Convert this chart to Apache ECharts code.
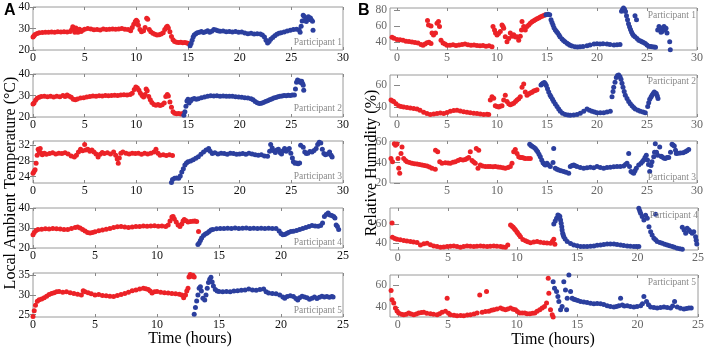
<!DOCTYPE html>
<html><head><meta charset="utf-8">
<script src="https://cdn.jsdelivr.net/npm/echarts@6/dist/echarts.min.js"></script>
<style>html,body{margin:0;padding:0;background:#fff}#c{width:707px;height:351px}</style>
</head><body><div id="c"></div>
<script>
// ---------- Tick labels ----------
const xTicks30 = [0,5,10,15,20,25,30];
const xTicks25 = [0,5,10,15,20,25];
const xTicksB3 = [5,10,15,20,25,30];
const xTickPosB45 = [0.15,4.3,10,15,20,25];
const xTickTextB45 = ['0','5','10','15','20','25'];
const yTicksA1 = [20,30,40], yTicksA2 = [20,30,40], yTicksA3 = [24,28,32], yTicksA4 = [20,30,40], yTicksA5 = [25,30,35];
const yTicksB1 = [40,60,80], yTicksB2 = [40,60], yTicksB3 = [20,40,60], yTicksB4 = [40,60], yTicksB5 = [40,60];
const participants = ['Participant 1','Participant 2','Participant 3','Participant 4','Participant 5'];

// ---------- A: Local ambient temperature (°C) ----------
const a1Red = [[0,26],[0.1,26.6],[0.2,27.2],[0.4,27.7],[0.6,28],[0.9,28.1],[1.2,28.3],[1.5,28.2],[1.8,28.4],[2.1,28.3],[2.4,28.5],[2.7,28.4],[3,28.5],[3.3,28.4],[3.6,28.6],[3.75,29.5],[3.85,30.8],[3.95,29.8],[4.05,28.3],[4.15,30.2],[4.25,29],[4.35,28.2],[4.5,29.6],[4.65,28.6],[4.8,29.2],[5,29.6],[5.3,30],[5.6,29.8],[5.9,29.4],[6.2,29.5],[6.5,29.3],[6.8,29.8],[7.1,29.5],[7.4,29.7],[7.7,29.8],[8,29.6],[8.3,29.8],[8.6,30],[8.9,29.7],[9.2,29.5],[9.45,29],[9.6,30.5],[9.75,32],[9.9,33.3],[10,33.8],[10.1,33.2],[10.2,31.5],[10.35,29.5],[10.5,28.5],[10.7,29],[10.85,30.5],[11,34.8],[11.1,34.3],[11.25,29.5],[11.4,28.5],[11.6,27.8],[11.8,27.3],[12,27],[12.2,27.1],[12.4,27.4],[12.6,28],[12.75,29.5],[12.9,30.6],[13,31],[13.1,30.2],[13.25,28.5],[13.4,26.3],[13.55,24.8],[13.7,24],[13.9,23.6],[14.1,23.5],[14.3,23.6],[14.5,23.4],[14.7,23.5],[14.9,23.3],[15.05,23]];
const a1Blue = [[15.2,22],[15.3,23],[15.4,24.5],[15.5,26],[15.6,27],[15.75,27.6],[15.9,28],[16.1,28.3],[16.3,28.6],[16.5,28.1],[16.7,28.5],[16.9,28.9],[17.1,28.3],[17.3,28.7],[17.5,29.5],[17.7,29.3],[17.9,29],[18.1,28.7],[18.4,28.8],[18.7,28.5],[19,28.6],[19.3,28.4],[19.6,28.6],[19.9,28.3],[20.2,28.4],[20.5,27.9],[20.8,27.6],[21.1,27.8],[21.4,27.5],[21.7,27.6],[22,27.4],[22.2,27],[22.4,26],[22.55,24.5],[22.7,23.2],[22.85,24],[23,25],[23.2,25.8],[23.4,26.6],[23.6,27.3],[23.8,27.8],[24,28],[24.3,28.4],[24.6,28.8],[24.9,29.2],[25.2,29.5],[25.5,29.6],[25.75,29.4],[25.85,28.3],[25.95,31],[26.05,33.5],[26.15,36.2],[26.25,35.6],[26.35,34],[26.45,33.2],[26.55,34.5],[26.65,35.5],[26.75,34.2],[26.85,34.9],[26.95,34],[27.05,33.4],[27.1,29.2]];
const a2Red = [[0,26],[0.1,26.5],[0.25,27.8],[0.4,28.7],[0.6,29.2],[0.8,29.5],[1.1,29.6],[1.4,29.4],[1.7,29.6],[2,29.3],[2.3,29.7],[2.6,29.4],[2.9,30],[3.1,29.5],[3.3,30.2],[3.5,29.6],[3.7,29.2],[3.9,28.3],[4.1,28],[4.3,28.4],[4.6,28.8],[4.9,29],[5.2,29.3],[5.5,29.5],[5.8,29.8],[6.1,29.7],[6.4,29.9],[6.7,29.8],[7,30],[7.3,29.9],[7.6,30],[7.9,30.1],[8.2,30],[8.5,30.2],[8.8,30.3],[9.1,30.2],[9.4,30.5],[9.6,31],[9.8,32.8],[9.95,34],[10.1,33.5],[10.25,32.5],[10.4,31],[10.55,30],[10.7,29.3],[10.85,30.5],[10.95,33],[11.05,32.2],[11.2,29.5],[11.35,28],[11.5,26.8],[11.7,25.8],[11.9,25.5],[12.1,25.8],[12.3,25.4],[12.5,25.7],[12.7,26.5],[12.85,29.5],[13,30.5],[13.1,29.8],[13.25,27],[13.4,24.5],[13.55,22.5],[13.7,21.8],[13.9,21.5],[14.1,21.6],[14.3,21.4],[14.5,21.6]];
const a2Blue = [[14.6,20.8],[14.7,22.5],[14.8,25],[14.9,27.5],[15,28.2],[15.1,26.5],[15.25,27.5],[15.4,28.3],[15.6,28.6],[15.8,28.2],[16,28.5],[16.3,29],[16.6,29.3],[16.9,29.7],[17.2,29.9],[17.5,29.8],[17.8,29.9],[18.1,29.7],[18.4,29.8],[18.7,29.7],[19,29.6],[19.3,29.7],[19.6,29.4],[19.9,29.3],[20.2,29.2],[20.5,28.9],[20.8,28.8],[21.1,28.5],[21.3,28],[21.5,27.2],[21.7,26.6],[21.9,26.3],[22.1,26.4],[22.3,26.8],[22.5,27.2],[22.7,27.6],[22.9,28],[23.1,28.4],[23.3,28.8],[23.5,29.1],[23.7,29.4],[23.9,29.6],[24.1,29.8],[24.3,30],[24.5,29.9],[24.7,30.1],[24.9,30],[25.1,30.2],[25.3,30.2],[25.4,33],[25.5,36.2],[25.6,37.2],[25.7,36.5],[25.8,36.8],[25.9,36],[26,36.6],[26.1,35.5],[26.15,34.8],[26.2,32.5]];
const a3Red = [[0,24.9],[0.1,25.3],[0.2,25.8],[0.3,27.4],[0.4,29.5],[0.5,31],[0.6,30.4],[0.7,31.2],[0.8,30],[0.9,29.6],[1.1,30],[1.3,29.7],[1.6,29.9],[1.9,30.1],[2.2,29.8],[2.5,30],[2.8,29.9],[3.1,30.1],[3.4,29.8],[3.7,29.3],[4,29],[4.2,29.5],[4.4,30.3],[4.6,31],[4.8,30.6],[5,32.2],[5.1,30.8],[5.3,31],[5.5,30.5],[5.7,30.8],[5.9,30.3],[6.1,29.8],[6.3,29],[6.5,29.7],[6.7,30.2],[6.9,29.9],[7.2,30.1],[7.5,29.8],[7.8,30.3],[8,29.5],[8.15,28.5],[8.25,27.4],[8.35,28.8],[8.5,30],[8.7,30.3],[9,30],[9.3,29.8],[9.6,30],[9.9,29.9],[10.2,30],[10.5,29.7],[10.8,30],[11.1,29.8],[11.4,30],[11.7,30.3],[11.9,31],[12.1,30],[12.3,29.5],[12.6,29.6],[12.9,29.4],[13.2,29.6],[13.5,29.4]];
const a3Blue = [[13.4,22.5],[13.5,23.3],[13.7,23.6],[13.9,23.7],[14.1,23.6],[14.25,24.2],[14.4,25.2],[14.55,26],[14.7,27],[14.85,27.5],[15,27.8],[15.25,28],[15.5,28.3],[15.75,28.7],[16,29.1],[16.25,29.7],[16.5,30.3],[16.75,30.8],[17,31.2],[17.15,30.5],[17.35,29.9],[17.6,30.1],[17.9,29.8],[18.2,30],[18.5,29.9],[18.8,29.7],[19.1,30],[19.4,29.9],[19.7,29.7],[20,29.8],[20.3,29.9],[20.6,29.7],[20.9,30],[21.2,29.8],[21.5,29.6],[21.8,29.5],[22.1,29.6],[22.4,29.3],[22.7,29.2],[22.9,30.5],[23,32.2],[23.15,31.3],[23.3,30.6],[23.45,30.2],[23.6,30.8],[23.75,31],[23.9,30.2],[24.05,29.8],[24.2,30.6],[24.35,31.2],[24.5,30.5],[24.65,30.8],[24.8,31.2],[24.95,30],[25.1,28.8],[25.2,27.8],[25.35,27.4],[25.5,27.5],[25.65,27.3],[25.8,27.5],[25.9,32],[26.05,33.2],[26.15,31.5],[26.3,30.3],[26.45,29.9],[26.6,30],[26.8,30.4],[27,30.3],[27.2,30.7],[27.4,31.2],[27.55,32.2],[27.7,32.8],[27.85,32.6],[28,31],[28.15,29.9],[28.3,29.6],[28.5,29.8],[28.7,30.3],[28.85,29.5],[28.95,29]];
const a4Red = [[0,26.6],[0.1,27.8],[0.25,28.8],[0.4,29.2],[0.7,29.4],[1,29.6],[1.3,29.5],[1.6,29.7],[1.9,29.6],[2.2,29.5],[2.5,29.3],[2.8,29.2],[3.1,29.7],[3.4,30.3],[3.6,30.5],[3.8,30],[4,29.2],[4.2,28.5],[4.4,27.8],[4.6,27.5],[4.8,27.8],[5,28.1],[5.3,28.6],[5.6,29],[5.9,29.4],[6.2,29.8],[6.5,30.2],[6.8,30.6],[7.1,30.7],[7.4,30.5],[7.7,30.3],[8,30.5],[8.3,30.7],[8.6,30.8],[8.9,31],[9.2,30.9],[9.5,31],[9.8,31.1],[10.1,30.9],[10.4,31],[10.7,30.8],[10.9,31.5],[11.05,33.5],[11.2,35.5],[11.3,35.8],[11.4,34.5],[11.55,33],[11.7,31.5],[11.85,30.7],[12,32],[12.1,33.5],[12.2,34.2],[12.35,33.6],[12.5,33],[12.7,33.2],[12.9,33.4],[13.05,33.5],[13.2,33.2],[13.35,28.3]];
const a4Blue = [[13.3,21.7],[13.4,22.5],[13.5,23.8],[13.6,25],[13.75,26.2],[13.9,27],[14.05,27.5],[14.2,28.3],[14.35,29],[14.5,29.3],[14.8,29.6],[15.1,29.8],[15.4,29.7],[15.7,29.9],[16,29.8],[16.3,30],[16.6,29.8],[16.9,29.9],[17.2,30],[17.5,29.8],[17.8,29.9],[18.1,29.7],[18.4,29.9],[18.7,29.8],[19,29.9],[19.3,29.8],[19.6,29.7],[19.85,28.5],[20,27.2],[20.15,26.6],[20.3,26.7],[20.45,27.3],[20.6,27.8],[20.8,28.2],[21,28.4],[21.25,28.8],[21.5,29.2],[21.75,29.8],[22,30.3],[22.25,30.8],[22.5,31.2],[22.75,31],[23,30.9],[23.2,31.2],[23.35,32.5],[23.5,35.8],[23.65,36.8],[23.8,37.5],[23.95,36.5],[24.1,36.2],[24.25,35.8],[24.35,35],[24.45,31.5],[24.55,30.7],[24.65,29.2]];
const a5Red = [[0,24.5],[0.1,26],[0.2,27.4],[0.35,28.4],[0.5,28.8],[0.7,29],[0.9,29.3],[1.1,29.7],[1.3,30.1],[1.5,30.4],[1.7,30.6],[1.9,30.8],[2.1,30.9],[2.4,30.7],[2.7,30.8],[3,30.6],[3.3,30.4],[3.6,30.2],[3.9,30],[4.05,31.1],[4.2,30.8],[4.45,30.6],[4.7,30.3],[5,30],[5.3,30.1],[5.6,29.9],[5.9,29.8],[6.2,29.7],[6.5,29.6],[6.8,29.9],[7.1,30.1],[7.4,30.4],[7.7,30.7],[8,31.1],[8.3,31.3],[8.6,31.5],[8.9,31.7],[9.1,31.6],[9.3,31.4],[9.45,31],[9.6,30.5],[9.8,30.8],[10,30.9],[10.3,30.7],[10.6,30.6],[10.9,30.5],[11.2,30.4],[11.5,30.3],[11.8,30.2],[12,30],[12.15,29.3],[12.3,30],[12.4,31],[12.5,31.7],[12.58,34.6],[12.68,35.2],[12.78,34.8],[12.9,35],[13,34.6]];
const a5Blue = [[13,25.1],[13.1,26.8],[13.2,28.5],[13.3,30],[13.4,31.7],[13.5,32.1],[13.58,31],[13.7,29.2],[13.85,28.7],[13.95,30],[14.05,31.7],[14.15,33.2],[14.25,34],[14.35,34.5],[14.45,33.3],[14.55,32.3],[14.7,31.4],[14.85,31],[15,30.9],[15.3,30.8],[15.6,30.9],[15.9,30.8],[16.2,31],[16.5,31.1],[16.8,31.2],[17.1,31.3],[17.4,31.5],[17.7,31.3],[18,31.2],[18.3,31.4],[18.6,31.5],[18.8,30.8],[19,30.5],[19.3,30.4],[19.6,30.3],[19.9,30],[20.15,29.5],[20.3,29.2],[20.5,29.6],[20.75,29.8],[21,29.6],[21.2,29.1],[21.35,28.7],[21.5,29.3],[21.7,29.7],[21.9,29.5],[22.1,29.3],[22.3,28.9],[22.5,29.2],[22.7,29.5],[22.9,29.1],[23.1,29.4],[23.3,29.7],[23.5,29.5],[23.7,29.6],[23.9,29.4],[24.1,29.6],[24.2,29.5]];

// ---------- B: Relative humidity (%) ----------
const b1Red = [[-0.5,45.6],[-0.3,44.5],[0,43],[0.3,42.5],[0.6,41.8],[0.9,40.5],[1.2,40.2],[1.5,39.8],[1.8,39.2],[2.1,38.5],[2.4,36.5],[2.6,35.7],[2.8,37],[3,38.7],[3.2,39.3],[3.4,37.8],[3.05,67],[3.15,61.5],[3.4,60],[3.5,51],[3.65,48.6],[3.85,51],[4,63.7],[4.15,65.8],[4.25,59.4],[4.4,42],[4.6,38.5],[4.8,37],[5,35.7],[5.3,35.5],[5.6,36.2],[5.9,35.2],[6.2,35.8],[6.5,36.5],[6.8,37],[7.1,36.3],[7.4,35.5],[7.7,36],[8,35.2],[8.3,34.8],[8.6,35.3],[8.9,34.4],[9.2,34.8],[9.5,33.5],[9.6,59.4],[9.75,55],[9.85,51],[10,48.6],[10.15,50.5],[10.33,53],[10.5,61.5],[10.6,59.5],[10.67,57.2],[10.83,46.5],[11,40],[11.17,44.3],[11.33,51],[11.5,47],[11.67,49],[11.85,46],[12,46.5],[12.17,42],[12.33,47],[12.45,55],[12.5,65.8],[12.67,59.4],[12.83,55],[13,59.4],[13.17,61.5],[13.33,63.7],[13.5,65.5],[13.67,66.8],[13.83,68],[14,69.2],[14.17,70.3],[14.33,71.4],[14.5,72.5],[14.67,73.5],[14.83,74.4]];
const b1Blue = [[14.9,74.4],[15.1,75],[15.27,74.5],[15.4,68],[15.5,64.5],[15.6,61.5],[15.7,58],[15.83,55],[15.95,53],[16.07,51],[16.2,48.5],[16.3,46.5],[16.5,43.5],[16.65,41.5],[16.8,40],[17,38],[17.15,36.8],[17.3,35.7],[17.5,34.5],[17.8,33.5],[18.05,33.4],[18.3,33.6],[18.6,34],[19,34.8],[19.3,35.8],[19.7,37],[20,37.5],[20.3,37.2],[20.6,37.6],[21,37],[21.3,36.5],[21.7,36],[22,36.3],[22.3,36.5],[22.45,79],[22.55,81],[22.65,83],[22.75,81.5],[22.85,78.7],[22.95,73],[23.05,68],[23.15,63],[23.25,59],[23.35,55.5],[23.45,52.5],[23.55,50],[23.8,73],[23.95,68],[23.65,48],[23.8,46.5],[24,44],[24.17,42],[24.35,41],[24.5,40],[24.65,39],[24.83,37.8],[25,36],[25.17,34.4],[25.35,33.8],[25.5,33.5],[25.7,33.2],[25.85,33],[26.07,55],[26.2,59.4],[26.3,56],[26.4,52],[26.5,53],[26.6,58],[26.7,59.5],[26.8,55],[26.9,57.2],[27,51],[27.27,40],[27.33,29.8]];
const b2Red = [[-0.6,46.4],[-0.45,45.5],[-0.33,45],[-0.1,43],[0.17,41.2],[0.4,40.5],[0.67,40],[1,39.5],[1.33,39.1],[1.67,38.7],[2,38.3],[2.3,37],[2.67,35.4],[3,34.2],[3.33,33.3],[3.67,33.7],[4,34.2],[4.33,34.6],[4.67,34.2],[5,35],[5.33,36.2],[5.67,36.8],[6,37.1],[6.33,36.5],[6.67,35.8],[7,35.2],[7.33,34.8],[7.67,34.5],[8,34.2],[8.33,33.8],[8.67,33.3],[9,33.5],[9.17,33.2],[9.33,46.4],[9.5,49.3],[9.67,48],[9.83,41.2],[10,40.5],[10.17,40],[10.33,40.8],[10.5,41.2],[10.67,46.4],[10.83,50.7],[11,45],[11.17,43],[11.33,42],[11.5,42.8],[11.67,43.5],[11.85,45],[12,46.4],[12.17,47.5],[12.33,49.3],[12.5,58],[12.67,60.9],[12.83,53.6],[13,50.7],[13.17,51.8],[13.33,52.8],[13.5,53.5],[13.67,54.5],[13.83,55],[14,55.7]];
const b2Blue = [[14.4,60],[14.5,60.9],[14.6,61.5],[14.73,62.3],[14.83,61],[14.93,59.4],[15.05,56.5],[15.17,53.6],[15.3,51],[15.4,49.3],[15.55,47],[15.67,45],[15.83,42.8],[16,40.6],[16.17,38.3],[16.33,36.2],[16.55,34.5],[16.83,33.3],[17.1,32.8],[17.33,32.5],[17.67,32.8],[18,33.3],[18.33,34.5],[18.67,36.2],[19,38.3],[19.25,37],[19.5,36.2],[19.75,35.5],[20,34.8],[20.33,34.8],[20.67,34.8],[21,35.5],[21.33,36.2],[21.5,49.3],[21.6,54],[21.67,58],[21.8,62.5],[21.93,66.7],[22.05,68.5],[22.17,69],[22.3,67.5],[22.4,65.2],[22.5,61.5],[22.6,58],[22.72,54],[22.83,50.7],[23,47.8],[23.17,45],[23.33,43],[23.5,41.2],[23.67,39.7],[23.83,38.3],[24.1,37.2],[24.33,36.2],[24.6,35.5],[24.83,34.8],[25.07,40.6],[25.17,44],[25.27,47],[25.4,49],[25.5,50.7],[25.62,52.2],[25.73,53.6],[25.83,52.8],[25.93,52.2],[26.03,50],[26.1,47.8]];
const b3Red = [[-0.6,44],[-0.45,40.8],[-0.27,58.4],[-0.15,56.8],[0,58],[0.1,44],[0.17,34.4],[0.27,29.6],[0.4,48.8],[0.5,55.2],[0.67,44],[0.85,42],[1,40.8],[1.25,40],[1.5,39.2],[1.75,38.8],[2,38.6],[2.25,38],[2.5,37.6],[2.75,37],[3,36.6],[3.25,35.5],[3.5,34.4],[3.83,33.4],[3.85,52],[4.07,50.4],[4.27,40.8],[4.5,39.2],[4.83,39.8],[5.1,39.5],[5.33,39.2],[5.6,40.2],[5.83,40.8],[6.1,42],[6.33,43],[6.6,42.5],[6.83,43],[7,44],[7.17,45],[7.33,50.4],[7.5,42],[7.67,40.5],[7.83,39.2],[7.93,53.6],[8.17,52],[8.1,34.4],[8.33,37.6],[8.55,36.5],[8.83,36],[9.1,36.2],[9.33,36],[9.6,35.8],[9.83,36],[10.1,35.5],[10.33,35.4],[10.6,35],[10.83,34.4],[11.1,35.2],[11.33,36],[11.5,39.2],[11.67,50.4],[11.83,52.6],[12,48.8],[12.17,45.6],[12.33,45],[12.5,45],[12.67,44.5],[12.83,44],[13.1,44],[13.33,44]];
const b3Blue = [[13.27,57.8],[13.4,56.5],[13.5,55.8],[13.67,54.8],[13.83,53.6],[13.95,52],[14.07,50.4],[14.2,48],[14.33,45.6],[14.47,42.5],[14.6,39.8],[14.72,38.5],[14.83,37.6],[15,39.2],[15.15,37.5],[15.33,36],[15.67,53.6],[15.6,40],[15.83,34.4],[16,33.5],[16.17,32.8],[16.4,32],[16.67,31.2],[16.9,30.5],[17.17,29.6],[17.33,36],[17.5,37],[17.67,37.6],[17.83,36.8],[18,36],[18.33,35.2],[18.67,34.4],[19,35],[19.33,35.4],[19.67,35],[20,36],[20.33,35.2],[20.67,34.4],[21,35.2],[21.33,35.4],[21.67,35.8],[22,36],[22.33,36.2],[22.67,36.6],[22.85,38],[23,39.2],[23.17,48.8],[23.25,36],[23.4,31.2],[23.55,30.2],[23.67,29.6],[23.8,32],[23.93,34.4],[24.17,37.6],[24.4,39.2],[24.55,41],[24.67,42.4],[24.8,45],[24.93,47.2],[25.05,42.4],[25.15,38],[25.27,31.2],[25.4,37],[25.5,40.8],[25.67,45.6],[25.75,50],[25.83,58.4],[25.95,50],[26.07,47.2],[26.27,55.2],[26.4,46],[26.5,45.6],[26.67,44.5],[26.83,44],[27,44.8],[27.17,45],[27.35,50],[27.5,57.8],[27.6,57],[27.73,56],[27.85,52],[27.93,48.8],[28.1,49],[28.33,49.4],[28.6,49.6],[28.83,50.4],[29,51.5],[29.17,52.6]];
const b4Red = [[-0.33,61],[-0.3,46.2],[-0.1,45],[0.08,44.2],[0.35,43.5],[0.64,42.8],[0.9,42.2],[1.19,41.7],[1.45,41.2],[1.74,40.7],[2.02,38.3],[2.3,39.5],[2.57,40],[2.85,38.5],[3.12,37.2],[3.4,36.5],[3.68,35.9],[3.95,36.2],[4.23,36.5],[4.5,37],[4.78,37.2],[5.05,36.5],[5.33,35.9],[5.6,36.5],[5.88,37.2],[6.15,36.8],[6.44,36.5],[6.7,36.9],[6.99,37.2],[7.25,36.8],[7.54,36.5],[7.8,36.9],[8.09,37.2],[8.35,36.8],[8.65,36.5],[8.85,36.2],[9.06,35.9],[9.25,38.3],[9.48,59],[9.6,57.5],[9.7,56.6],[9.8,55],[9.89,53.8],[10,52],[10.08,50.4],[10.2,48.5],[10.3,46.8],[10.5,44],[10.72,42.7],[10.9,41.5],[11.13,40.6],[11.4,41.2],[11.68,41.7],[11.95,41],[12.24,40.6],[12.5,40.3],[12.79,40],[12.95,42],[13.06,44.1],[13.15,39]];
const b4Blue = [[13.06,60],[13.18,63],[13.29,65.9],[13.4,69.3],[13.5,68.5],[13.56,67.6],[13.62,64],[13.67,60.8],[13.72,57],[13.75,53.8],[13.8,50.4],[13.84,48.6],[13.89,46.8],[14,44.5],[14.17,41.7],[14.45,39.8],[14.72,38.2],[15,37.3],[15.28,36.5],[15.55,36.5],[15.82,36.5],[16.1,36.8],[16.38,37.2],[16.65,37.8],[16.93,38.2],[17.2,38.8],[17.48,39.3],[17.75,39.3],[18.04,39.3],[18.3,38.8],[18.59,38.2],[18.85,37.7],[19.14,37.2],[19.4,36.8],[19.69,36.5],[19.9,36.5],[20.1,36.5],[20.1,76.3],[20.18,73.5],[20.25,71],[20.38,67.6],[20.52,64.1],[20.66,69],[20.8,66],[20.94,57.2],[21.08,52],[21.2,48.6],[21.35,45.2],[21.49,43.5],[21.62,41.7],[21.85,40.8],[22.04,40],[22.25,39],[22.45,38.2],[22.65,37.3],[22.87,36.5],[23.05,35.8],[23.28,34.8],[23.5,34.2],[23.7,33.8],[21.49,70],[23.7,56.6],[23.85,53.8],[23.98,50.4],[24.1,55.5],[24.25,53.8],[24.38,52],[24.52,50.4],[24.65,52],[24.8,46.8],[24.85,43.2],[24.9,39.3]];
const b5Red = [[-0.41,55],[-0.33,46.6],[-0.19,43.6],[-0.05,39.1],[0.08,36.5],[0.22,34.6],[0.45,33.5],[0.64,33.1],[0.85,33.5],[1.05,34.6],[1.25,33.8],[1.47,33.1],[1.68,33.8],[1.88,34.6],[2.1,35],[2.3,35.2],[2.55,34.5],[2.85,34],[3.1,33.5],[3.4,33.1],[3.6,34],[3.81,35.2],[4.09,36.1],[4.23,48],[4.35,34.5],[4.51,33.1],[4.8,32.6],[5.05,32.2],[5.35,32.4],[5.61,32.2],[5.9,32.8],[6.16,33.1],[6.45,33.8],[6.71,34.6],[6.93,51],[7.13,35.2],[7.49,54],[7.4,36],[7.68,36.1],[7.9,37],[8.09,37.6],[8.35,38.3],[8.65,39.1],[8.85,38.3],[9.06,37.6],[9.25,38.3],[9.48,39.1],[9.7,38],[9.89,37.6],[10.05,36],[10.25,34.6],[10.45,34.6],[10.66,34.6],[10.85,34],[11.08,34],[11.3,34.3],[11.49,34.6],[11.68,36.1],[11.9,37.6],[12.1,39.1],[12.29,40.6],[12.46,43.6],[12.6,66],[12.65,52.6],[12.79,37.6],[12.93,33.1],[13.01,31]];
const b5Blue = [[13.01,63],[13.12,57],[13.29,54],[13.4,49.6],[13.48,45],[13.62,37.6],[13.75,40.6],[13.89,63],[14.03,55.5],[14.12,37.6],[14.17,48],[14.31,69],[14.45,54],[14.58,48],[14.72,47],[14.86,46.6],[15.05,46],[15.28,45],[15.55,44.6],[15.82,44.2],[16.1,43.5],[16.38,43],[16.65,43.2],[16.93,43],[17.2,42.2],[17.48,41.2],[17.75,40.6],[18.04,40],[18.25,40.5],[18.45,41.2],[18.59,48],[18.73,41.8],[18.9,41],[19.14,41.2],[19.4,40.5],[19.69,40],[19.95,40.6],[20.25,41.2],[20.4,43],[20.52,49.6],[20.74,45],[20.9,42],[21.08,40],[21.35,39.5],[21.62,39.1],[21.9,39.6],[22.18,40],[22.45,39.5],[22.73,39.1],[22.9,41],[23.06,45],[23.28,40],[23.55,39],[23.84,38.2],[24.05,38.8],[24.25,39.1],[24.44,39.1]];

// ---------- Build panels ----------
const RED = '#ec2227', BLUE = '#2b3f9e';
const SERIF = '"Liberation Serif", "DejaVu Serif", serif';
const panels = [
  {box:[33,7,310,43],  x:[0,30], y:[20,40],     xt:xTicks30, yt:yTicksA1, red:a1Red, blue:a1Blue, lc:'#111', pl:[342,42]},
  {box:[33,74,310,43], x:[0,30], y:[20,40],     xt:xTicks30, yt:yTicksA2, red:a2Red, blue:a2Blue, lc:'#111', pl:[342,108]},
  {box:[33,141,310,42],x:[0,30], y:[22.4,33.1], xt:xTicks30, yt:yTicksA3, red:a3Red, blue:a3Blue, lc:'#111', pl:[342,176]},
  {box:[33,208,310,40],x:[0,25], y:[20,40],     xt:xTicks25, yt:yTicksA4, red:a4Red, blue:a4Blue, lc:'#111', pl:[342,242]},
  {box:[33,273,310,44],x:[0,25], y:[24.4,35.6], xt:xTicks25, yt:yTicksA5, red:a5Red, blue:a5Blue, lc:'#111', pl:[342,310]},
  {box:[390,8,307,42],  x:[-0.7,30], y:[29.5,83], xt:xTicks30, yt:yTicksB1, red:b1Red, blue:b1Blue, lc:'#666', pl:[696,15], last:true},
  {box:[390,75,307,42], x:[-0.7,30], y:[31,69],   xt:xTicks30, yt:yTicksB2, red:b2Red, blue:b2Blue, lc:'#666', pl:[696,81]},
  {box:[390,141,307,42],x:[-0.7,30], y:[20,61],   xt:xTicksB3, yt:yTicksB3, red:b3Red, blue:b3Blue, lc:'#666', pl:[696,177]},
  {box:[390,208,308,42],x:[-0.5,25], y:[33,76.5], xt:xTickPosB45, yt:yTicksB4, red:b4Red, blue:b4Blue, lc:'#666', pl:[698,215], custom:true},
  {box:[390,275,308,42],x:[-0.5,25], y:[31,69],   xt:xTickPosB45, yt:yTicksB5, red:b5Red, blue:b5Blue, lc:'#666', pl:[696,282], custom:true}
];

const grid = [], xAxis = [], yAxis = [], series = [], graphic = [];
panels.forEach((p, i) => {
  grid.push({left:p.box[0], top:p.box[1], width:p.box[2], height:p.box[3], show:true, borderColor:'#9a9a9a', borderWidth:1, backgroundColor:'#fff', containLabel:false});
  const tickStyle = {show:true, inside:true, length:3, lineStyle:{color:'#888', width:1}};
  const xfmt = p.custom ? (v => { const k = xTickPosB45.indexOf(v); return k >= 0 ? xTickTextB45[k] : ''; }) : (v => String(v));
  xAxis.push({type:'value', gridIndex:i, min:p.x[0], max:p.x[1], position:'bottom',
    axisLine:{show:false}, splitLine:{show:false},
    axisTick:Object.assign({customValues:p.xt}, tickStyle),
    axisLabel:{customValues:p.xt, formatter:xfmt, fontFamily:SERIF, fontSize:12, margin:2,
      color: p.last ? (v => v === 30 ? '#000' : p.lc) : p.lc}});
  xAxis.push({type:'value', gridIndex:i, min:p.x[0], max:p.x[1], position:'top',
    axisLine:{show:false}, splitLine:{show:false}, axisLabel:{show:false},
    axisTick:Object.assign({customValues:p.xt}, tickStyle)});
  yAxis.push({type:'value', gridIndex:i, min:p.y[0], max:p.y[1], position:'left',
    axisLine:{show:false}, splitLine:{show:false},
    axisTick:Object.assign({customValues:p.yt}, tickStyle),
    axisLabel:{customValues:p.yt, fontFamily:SERIF, fontSize:11.5, margin:3, color:p.lc}});
  yAxis.push({type:'value', gridIndex:i, min:p.y[0], max:p.y[1], position:'right',
    axisLine:{show:false}, splitLine:{show:false}, axisLabel:{show:false},
    axisTick:Object.assign({customValues:p.yt}, tickStyle)});
  [[p.red, RED], [p.blue, BLUE]].forEach(([d, c]) => {
    series.push({type:'scatter', xAxisIndex:2*i, yAxisIndex:2*i, data:d, symbolSize:5,
      itemStyle:{color:c, opacity:1}, silent:true, z:3});
  });
  graphic.push({type:'text', x:p.pl[0], y:p.pl[1], z:10,
    style:{text:participants[i % 5], font:'9.5px ' + SERIF, fill:'#8a8a8a', align:'right', verticalAlign:'middle'}});
});

graphic.push(
  {type:'text', x:4, y:11, style:{text:'A', font:'bold 16px "Liberation Sans", Arial, sans-serif', fill:'#000', verticalAlign:'middle'}},
  {type:'text', x:358, y:11, style:{text:'B', font:'bold 16px "Liberation Sans", Arial, sans-serif', fill:'#000', verticalAlign:'middle'}},
  {type:'text', x:190, y:339, style:{text:'Time (hours)', font:'16px ' + SERIF, fill:'#000', align:'center', verticalAlign:'middle'}},
  {type:'text', x:553, y:340, style:{text:'Time (hours)', font:'16px ' + SERIF, fill:'#000', align:'center', verticalAlign:'middle'}},
  {type:'text', x:11, y:183, rotation:Math.PI/2, style:{text:'Local Ambient Temperature (°C)', font:'16px ' + SERIF, fill:'#000', align:'center', verticalAlign:'middle'}},
  {type:'text', x:372, y:163, rotation:Math.PI/2, style:{text:'Relative Humidity (%)', font:'16px ' + SERIF, fill:'#000', align:'center', verticalAlign:'middle'}}
);

const chart = echarts.init(document.getElementById('c'), null, {renderer:'canvas'});
chart.setOption({animation:false, backgroundColor:'#fff', grid, xAxis, yAxis, series, graphic});
</script>
</body></html>
